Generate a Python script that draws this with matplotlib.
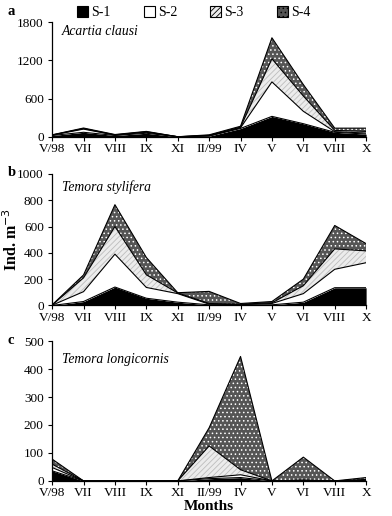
"""Seasonal stacked-area abundance of three copepods (S-1..S-4)."""

import matplotlib

matplotlib.use("Agg")
import matplotlib.pyplot as plt
import numpy as np
from matplotlib.patches import Patch

plt.rcParams["font.family"] = ["Liberation Serif", "DejaVu Serif"]
plt.rcParams["hatch.linewidth"] = 0.6

months = ["V/98", "VII", "VIII", "IX", "XI", "II/99", "IV", "V", "VI", "VIII", "X"]
stations = ["S-1", "S-2", "S-3", "S-4"]

# panel a: Acartia clausi
acartia_s1 = [20, 70, 20, 55, 0, 10, 130, 320, 205, 70, 42]
acartia_s2 = [5, 50, 5, 15, 0, 5, 10, 542, 195, 10, 16]
acartia_s3 = [3, 8, 5, 8, 0, 7, 10, 363, 240, 20, 26]
acartia_s4 = [2, 9, 5, 6, 0, 8, 15, 330, 180, 35, 51]

# panel b: Temora stylifera
stylifera_s1 = [0, 30, 140, 55, 25, 5, 3, 5, 25, 135, 135]
stylifera_s2 = [2, 75, 250, 82, 65, 5, 3, 10, 65, 140, 190]
stylifera_s3 = [1, 105, 210, 96, 5, 5, 4, 5, 60, 155, 90]
stylifera_s4 = [2, 22, 166, 132, 2, 92, 5, 10, 50, 178, 55]

# panel c: Temora longicornis
longicornis_s1 = [36, 0, 0, 0, 0, 8, 12, 0, 1, 0, 2]
longicornis_s2 = [12, 0, 0, 0, 0, 4, 10, 0, 1, 0, 1]
longicornis_s3 = [12, 0, 0, 0, 0, 113, 18, 0, 1, 0, 2]
longicornis_s4 = [18, 0, 0, 0, 0, 65, 405, 0, 82, 0, 7]

# (facecolor, hatch colour, hatch)
STYLES = [
    ("black", "black", None),
    ("white", "white", None),
    ("#ececec", "#bdbdbd", "//////"),
    ("#555555", "white", "...."),
]

# letter, species, stations, y ticks, (axes bottom, height), species text y, letter y
panels = [
    ("a", "Acartia clausi", [acartia_s1, acartia_s2, acartia_s3, acartia_s4],
     [0, 600, 1200, 1800], (0.735, 0.222), 0.92, 0.978),
    ("b", "Temora stylifera", [stylifera_s1, stylifera_s2, stylifera_s3, stylifera_s4],
     [0, 200, 400, 600, 800, 1000], (0.408, 0.255), 0.90, 0.665),
    ("c", "Temora longicornis",
     [longicornis_s1, longicornis_s2, longicornis_s3, longicornis_s4],
     [0, 100, 200, 300, 400, 500], (0.068, 0.271), 0.87, 0.340),
]

fig = plt.figure(figsize=(3.92, 5.16), dpi=100)
x = np.arange(len(months))

for letter, species, series, yticks, (bottom, height), text_y, letter_y in panels:
    ax = fig.add_axes([0.133, bottom, 0.801, height])
    lower = np.zeros(len(months))
    for values, (face, hcol, hatch) in zip(series, STYLES):
        upper = lower + np.asarray(values, dtype=float)
        ax.fill_between(x, lower, upper, facecolor=face, edgecolor=hcol,
                        hatch=hatch, linewidth=0, zorder=2)
        ax.plot(x, upper, color="black", linewidth=0.8, zorder=3)
        lower = upper
    ax.set_xlim(0, len(months) - 1)
    ax.set_ylim(yticks[0], yticks[-1])
    ax.set_yticks(yticks)
    ax.set_xticks(x)
    ax.set_xticklabels(months)
    for side in ("top", "right"):
        ax.spines[side].set_visible(False)
    ax.spines["left"].set_linewidth(0.9)
    ax.spines["bottom"].set_linewidth(0.9)
    ax.tick_params(labelsize=9.5, length=3, width=0.8)
    ax.tick_params(axis="x", pad=1.5)
    ax.tick_params(axis="y", pad=3)
    ax.text(0.03, text_y, species, transform=ax.transAxes, style="italic",
            fontsize=9.8, va="center")
    fig.text(0.02, letter_y, letter, fontweight="bold", fontsize=10.5, va="center")
    if letter == "b":
        ax.set_ylabel("Ind. m$^{-3}$", fontweight="bold", fontsize=11.5)
        ax.yaxis.set_label_coords(-0.10, 0.5)
    if letter == "c":
        ax.set_xlabel("Months", fontweight="bold", fontsize=11, labelpad=0.5)

handles = [Patch(facecolor=face, edgecolor="black", hatch=hatch, linewidth=0.8)
           for face, _, hatch in STYLES]
fig.legend(handles, stations, ncol=4, loc="upper left",
           bbox_to_anchor=(0.165, 1.012), frameon=False, fontsize=10,
           handlelength=0.8, handleheight=0.8, handletextpad=0.2,
           columnspacing=2.4)

fig.savefig("out.png", dpi=100)
